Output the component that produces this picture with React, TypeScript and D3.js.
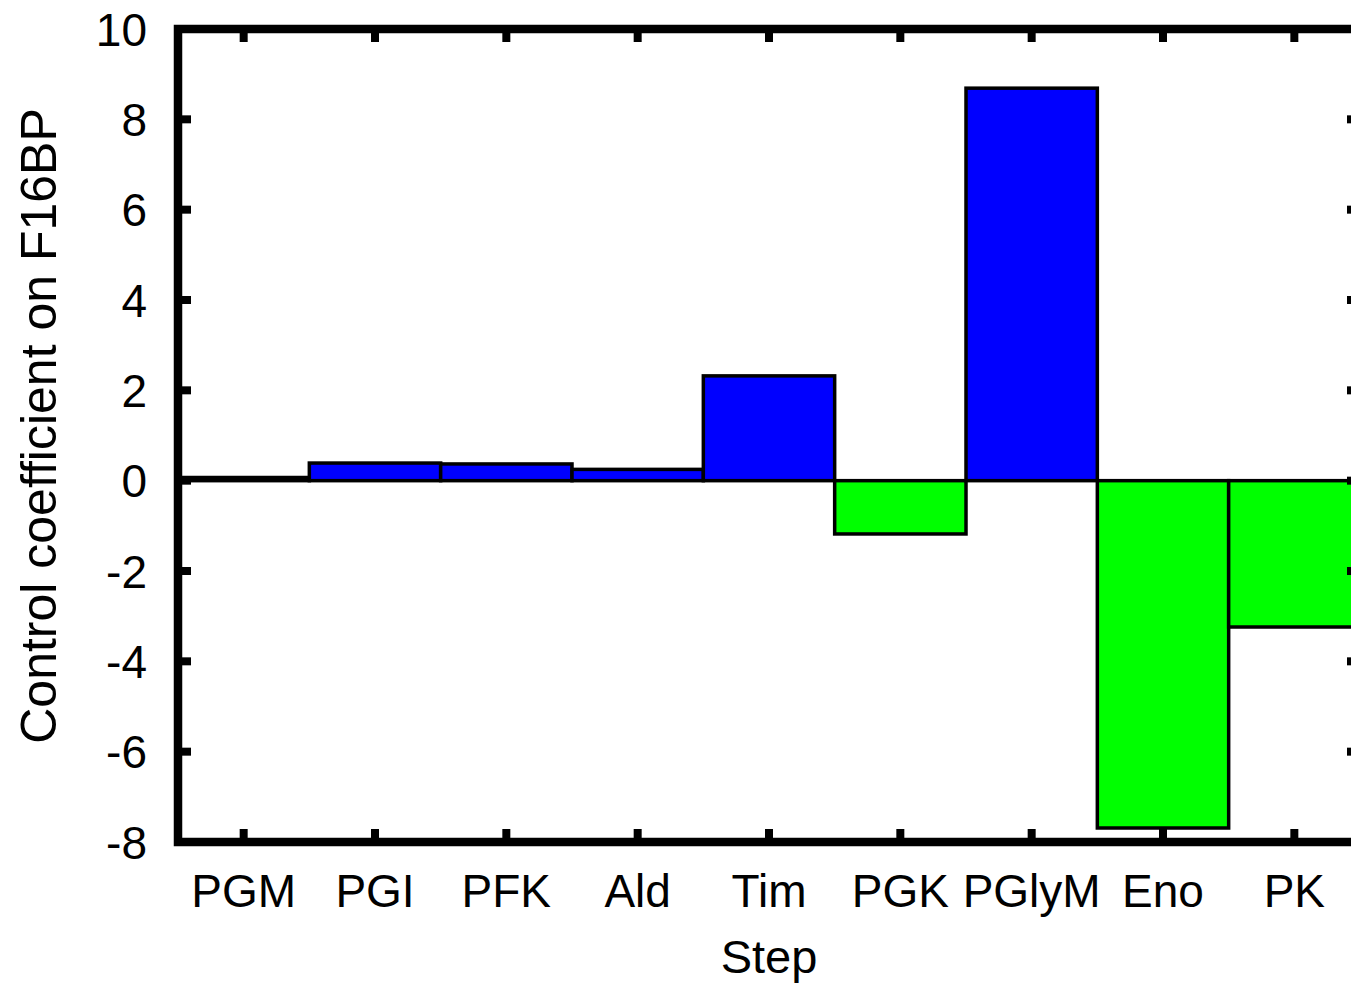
import React, { useEffect, useRef } from 'react';
import * as d3 from 'd3';

// glycolysis steps and their control coefficients on F16BP
const steps = ['PGM', 'PGI', 'PFK', 'Ald', 'Tim', 'PGK', 'PGlyM', 'Eno', 'PK'];
const coefficients = [0.07, 0.39, 0.37, 0.25, 2.32, -1.18, 8.69, -7.69, -3.24];
const yTicks = [-8, -6, -4, -2, 0, 2, 4, 6, 8, 10];

const xTitle = 'Step';
const yTitle = 'Control coefficient on F16BP';

const width = 1351;
const height = 986;

const App = () => {
  const svgRef = useRef<SVGSVGElement>(null);

  useEffect(() => {
    const svg = d3.select(svgRef.current);
    svg.selectAll('*').remove();

    const left = 178, right = 1360, top = 29, bottom = 842;
    const font = '"Liberation Sans", Arial, Helvetica, sans-serif';
    const fontSize = 46;

    const x = d3.scaleBand<string>()
      .domain(steps)
      .range([left, right])
      .padding(0);

    const y = d3.scaleLinear()
      .domain([-8, 10])
      .range([bottom, top]);

    const data = steps.map((s, i) => ({ step: s, value: coefficients[i] }));

    // bars
    svg.append('g')
      .selectAll('rect')
      .data(data)
      .enter().append('rect')
      .attr('x', d => x(d.step)!)
      .attr('y', d => y(Math.max(0, d.value)))
      .attr('width', x.bandwidth())
      .attr('height', d => Math.abs(y(d.value) - y(0)))
      .attr('fill', d => d.value >= 0 ? '#0000ff' : '#00ff00')
      .attr('stroke', '#000')
      .attr('stroke-width', 3.5);

    // ticks (inward, mirrored on all sides)
    const tickLen = 13;
    const ticks = svg.append('g').attr('stroke', '#000').attr('stroke-width', 8);
    yTicks.forEach(t => {
      ticks.append('line')
        .attr('x1', left).attr('x2', left + tickLen)
        .attr('y1', y(t)).attr('y2', y(t));
      ticks.append('line')
        .attr('x1', right).attr('x2', right - tickLen)
        .attr('y1', y(t)).attr('y2', y(t));
    });
    steps.forEach(s => {
      const cx = x(s)! + x.bandwidth() / 2;
      ticks.append('line')
        .attr('x1', cx).attr('x2', cx)
        .attr('y1', bottom).attr('y2', bottom - tickLen);
      ticks.append('line')
        .attr('x1', cx).attr('x2', cx)
        .attr('y1', top).attr('y2', top + tickLen);
    });

    // frame
    svg.append('rect')
      .attr('x', left)
      .attr('y', top)
      .attr('width', right - left)
      .attr('height', bottom - top)
      .attr('fill', 'none')
      .attr('stroke', '#000')
      .attr('stroke-width', 8.5);

    // y tick labels
    svg.append('g')
      .selectAll('text')
      .data(yTicks)
      .enter().append('text')
      .attr('x', 147)
      .attr('y', d => y(d) + 16.5)
      .attr('text-anchor', 'end')
      .attr('font-family', font)
      .attr('font-size', fontSize)
      .text(d => d);

    // x tick labels
    svg.append('g')
      .selectAll('text')
      .data(steps)
      .enter().append('text')
      .attr('x', d => x(d)! + x.bandwidth() / 2)
      .attr('y', 907)
      .attr('text-anchor', 'middle')
      .attr('font-family', font)
      .attr('font-size', fontSize)
      .text(d => d);

    // axis titles
    svg.append('text')
      .attr('x', (left + right) / 2)
      .attr('y', 973)
      .attr('text-anchor', 'middle')
      .attr('font-family', font)
      .attr('font-size', 47)
      .text(xTitle);

    svg.append('text')
      .attr('transform', `translate(56, 426) rotate(-90)`)
      .attr('text-anchor', 'middle')
      .attr('font-family', font)
      .attr('font-size', 50)
      .text(yTitle);
  }, []);

  return (
    <div style={{ position: 'absolute', left: 0, top: 0 }}>
      <svg ref={svgRef} width={width} height={height} style={{ display: 'block', background: '#fff' }}></svg>
    </div>
  );
};

export default App;
